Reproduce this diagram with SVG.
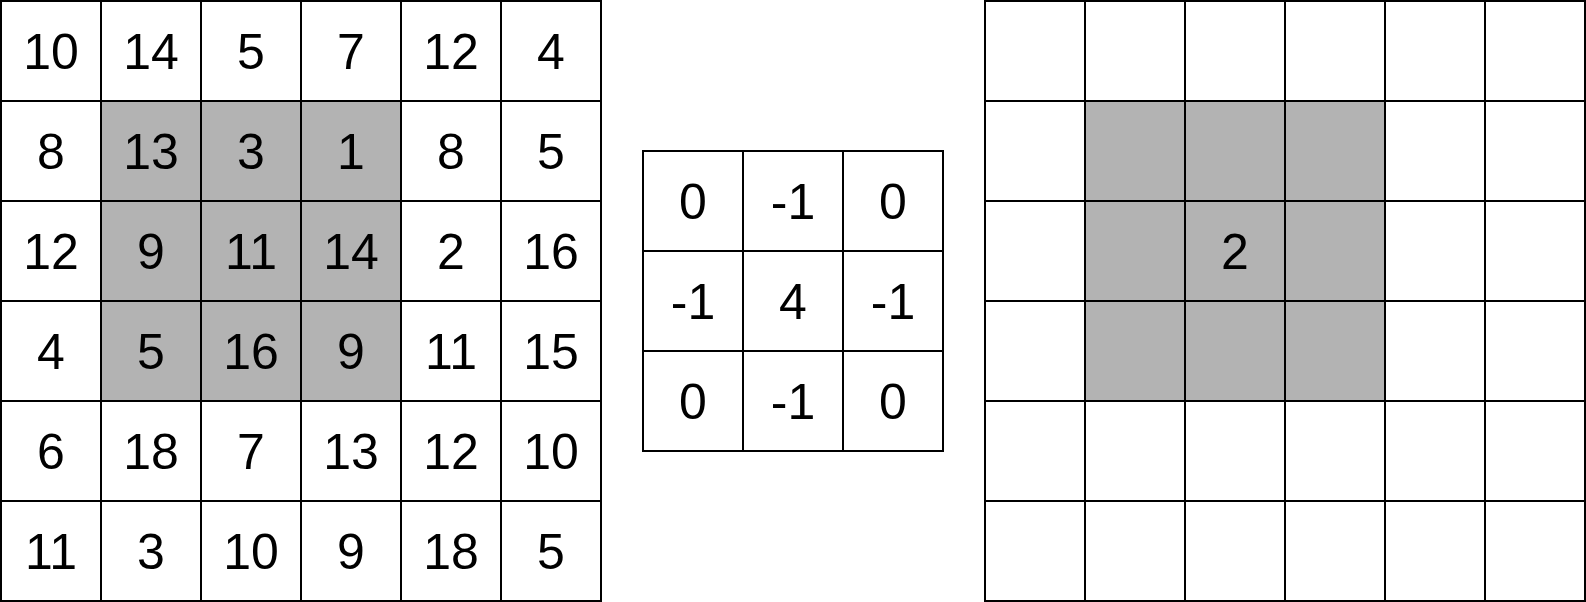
<svg xmlns="http://www.w3.org/2000/svg" width="1586" height="602" viewBox="0 0 1586 602">
<style>
.c{fill:#ffffff;stroke:#000000;stroke-width:2}
.s{fill:#b3b3b3;stroke:#000000;stroke-width:2}
text{font-family:"Liberation Sans",Arial,sans-serif;font-size:50px;fill:#000000;text-anchor:middle}
</style>
<rect x="0" y="0" width="1586" height="602" fill="#ffffff"/>
<g id="input">
<rect class="c" x="1" y="1" width="100" height="100"/><rect class="c" x="101" y="1" width="100" height="100"/><rect class="c" x="201" y="1" width="100" height="100"/><rect class="c" x="301" y="1" width="100" height="100"/><rect class="c" x="401" y="1" width="100" height="100"/><rect class="c" x="501" y="1" width="100" height="100"/>
<rect class="c" x="1" y="101" width="100" height="100"/><rect class="s" x="101" y="101" width="100" height="100"/><rect class="s" x="201" y="101" width="100" height="100"/><rect class="s" x="301" y="101" width="100" height="100"/><rect class="c" x="401" y="101" width="100" height="100"/><rect class="c" x="501" y="101" width="100" height="100"/>
<rect class="c" x="1" y="201" width="100" height="100"/><rect class="s" x="101" y="201" width="100" height="100"/><rect class="s" x="201" y="201" width="100" height="100"/><rect class="s" x="301" y="201" width="100" height="100"/><rect class="c" x="401" y="201" width="100" height="100"/><rect class="c" x="501" y="201" width="100" height="100"/>
<rect class="c" x="1" y="301" width="100" height="100"/><rect class="s" x="101" y="301" width="100" height="100"/><rect class="s" x="201" y="301" width="100" height="100"/><rect class="s" x="301" y="301" width="100" height="100"/><rect class="c" x="401" y="301" width="100" height="100"/><rect class="c" x="501" y="301" width="100" height="100"/>
<rect class="c" x="1" y="401" width="100" height="100"/><rect class="c" x="101" y="401" width="100" height="100"/><rect class="c" x="201" y="401" width="100" height="100"/><rect class="c" x="301" y="401" width="100" height="100"/><rect class="c" x="401" y="401" width="100" height="100"/><rect class="c" x="501" y="401" width="100" height="100"/>
<rect class="c" x="1" y="501" width="100" height="100"/><rect class="c" x="101" y="501" width="100" height="100"/><rect class="c" x="201" y="501" width="100" height="100"/><rect class="c" x="301" y="501" width="100" height="100"/><rect class="c" x="401" y="501" width="100" height="100"/><rect class="c" x="501" y="501" width="100" height="100"/>
<text x="51" y="69">10</text><text x="151" y="69">14</text><text x="251" y="69">5</text><text x="351" y="69">7</text><text x="451" y="69">12</text><text x="551" y="69">4</text>
<text x="51" y="169">8</text><text x="151" y="169">13</text><text x="251" y="169">3</text><text x="351" y="169">1</text><text x="451" y="169">8</text><text x="551" y="169">5</text>
<text x="51" y="269">12</text><text x="151" y="269">9</text><text x="251" y="269">11</text><text x="351" y="269">14</text><text x="451" y="269">2</text><text x="551" y="269">16</text>
<text x="51" y="369">4</text><text x="151" y="369">5</text><text x="251" y="369">16</text><text x="351" y="369">9</text><text x="451" y="369">11</text><text x="551" y="369">15</text>
<text x="51" y="469">6</text><text x="151" y="469">18</text><text x="251" y="469">7</text><text x="351" y="469">13</text><text x="451" y="469">12</text><text x="551" y="469">10</text>
<text x="51" y="569">11</text><text x="151" y="569">3</text><text x="251" y="569">10</text><text x="351" y="569">9</text><text x="451" y="569">18</text><text x="551" y="569">5</text>
</g>
<g id="kernel">
<rect class="c" x="643" y="151" width="100" height="100"/><rect class="c" x="743" y="151" width="100" height="100"/><rect class="c" x="843" y="151" width="100" height="100"/>
<rect class="c" x="643" y="251" width="100" height="100"/><rect class="c" x="743" y="251" width="100" height="100"/><rect class="c" x="843" y="251" width="100" height="100"/>
<rect class="c" x="643" y="351" width="100" height="100"/><rect class="c" x="743" y="351" width="100" height="100"/><rect class="c" x="843" y="351" width="100" height="100"/>
<text x="693" y="219">0</text><text x="793" y="219">-1</text><text x="893" y="219">0</text>
<text x="693" y="319">-1</text><text x="793" y="319">4</text><text x="893" y="319">-1</text>
<text x="693" y="419">0</text><text x="793" y="419">-1</text><text x="893" y="419">0</text>
</g>
<g id="output">
<rect class="c" x="985" y="1" width="100" height="100"/><rect class="c" x="1085" y="1" width="100" height="100"/><rect class="c" x="1185" y="1" width="100" height="100"/><rect class="c" x="1285" y="1" width="100" height="100"/><rect class="c" x="1385" y="1" width="100" height="100"/><rect class="c" x="1485" y="1" width="100" height="100"/>
<rect class="c" x="985" y="101" width="100" height="100"/><rect class="s" x="1085" y="101" width="100" height="100"/><rect class="s" x="1185" y="101" width="100" height="100"/><rect class="s" x="1285" y="101" width="100" height="100"/><rect class="c" x="1385" y="101" width="100" height="100"/><rect class="c" x="1485" y="101" width="100" height="100"/>
<rect class="c" x="985" y="201" width="100" height="100"/><rect class="s" x="1085" y="201" width="100" height="100"/><rect class="s" x="1185" y="201" width="100" height="100"/><rect class="s" x="1285" y="201" width="100" height="100"/><rect class="c" x="1385" y="201" width="100" height="100"/><rect class="c" x="1485" y="201" width="100" height="100"/>
<rect class="c" x="985" y="301" width="100" height="100"/><rect class="s" x="1085" y="301" width="100" height="100"/><rect class="s" x="1185" y="301" width="100" height="100"/><rect class="s" x="1285" y="301" width="100" height="100"/><rect class="c" x="1385" y="301" width="100" height="100"/><rect class="c" x="1485" y="301" width="100" height="100"/>
<rect class="c" x="985" y="401" width="100" height="100"/><rect class="c" x="1085" y="401" width="100" height="100"/><rect class="c" x="1185" y="401" width="100" height="100"/><rect class="c" x="1285" y="401" width="100" height="100"/><rect class="c" x="1385" y="401" width="100" height="100"/><rect class="c" x="1485" y="401" width="100" height="100"/>
<rect class="c" x="985" y="501" width="100" height="100"/><rect class="c" x="1085" y="501" width="100" height="100"/><rect class="c" x="1185" y="501" width="100" height="100"/><rect class="c" x="1285" y="501" width="100" height="100"/><rect class="c" x="1385" y="501" width="100" height="100"/><rect class="c" x="1485" y="501" width="100" height="100"/>
<text x="1235" y="269">2</text>
</g>
<g id="connectors"></g>
</svg>
